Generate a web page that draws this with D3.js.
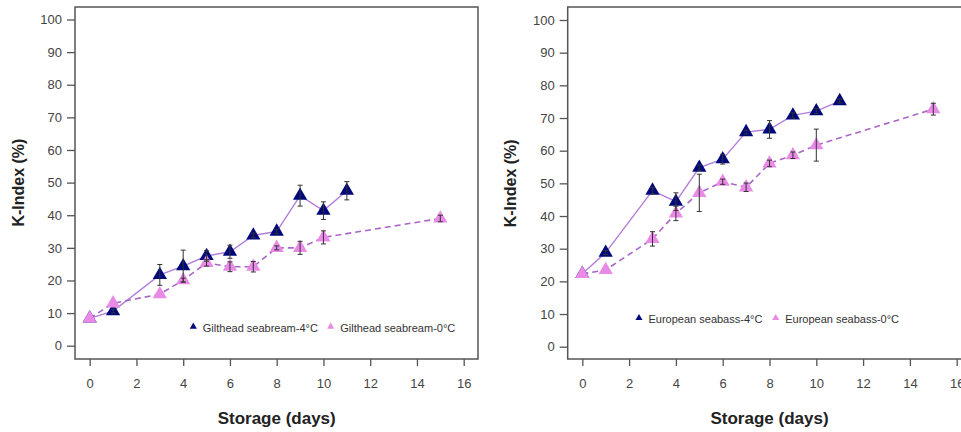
<!DOCTYPE html>
<html>
<head>
<meta charset="utf-8">
<script src="https://cdn.jsdelivr.net/npm/d3@7"></script>
<style>
  html, body { margin: 0; padding: 0; background: #fff; }
  svg { display: block; font-family: "Liberation Sans", Arial, sans-serif; }
</style>
</head>
<body>
<svg id="chart" width="961" height="432"></svg>
<script>
// ---- data ----
const days4 = [0, 1, 3, 4, 5, 6, 7, 8, 9, 10, 11];
const days0 = [0, 1, 3, 4, 5, 6, 7, 8, 9, 10, 15];

const gilthead4 = [8.4, 10.6, 21.7, 24.4, 27.5, 28.8, 33.8, 35.0, 46.0, 41.4, 47.5];
const gilthead4Err = [0.4, 0.6, 3.2, 4.9, 1.6, 2.0, 0.7, 0.7, 3.2, 2.7, 2.8];
const gilthead0 = [8.4, 13.0, 15.8, 20.1, 25.4, 24.2, 24.2, 30.0, 30.0, 33.2, 39.0];
const gilthead0Err = [0.4, 0.5, 0.5, 0.6, 1.0, 1.5, 1.6, 0.6, 2.0, 2.0, 1.0];

const seabass4 = [22.3, 28.8, 47.8, 44.4, 54.8, 57.4, 65.7, 66.5, 70.8, 72.1, 75.2];
const seabass4Err = [0.5, 0.6, 1.0, 2.7, 0.8, 1.5, 0.6, 2.7, 0.8, 0.8, 0.6];
const seabass0 = [22.3, 23.5, 33.0, 40.8, 47.1, 50.5, 48.8, 56.1, 58.6, 61.7, 72.7];
const seabass0Err = [0.5, 0.5, 2.2, 2.2, 5.7, 0.8, 1.3, 1.0, 1.0, 4.9, 1.8];

const xTicks = [0, 2, 4, 6, 8, 10, 12, 14, 16];
const yTicks = [0, 10, 20, 30, 40, 50, 60, 70, 80, 90, 100];

const labels = {
  x: "Storage (days)",
  y: "K-Index (%)",
  left: ["Gilthead seabream-4°C", "Gilthead seabream-0°C"],
  right: ["European seabass-4°C", "European seabass-0°C"]
};

// ---- styles ----
const NAVY = "#00087a";
const PINK = "#e98be6";
const LINE4 = "#b27fd8";
const LINE0 = "#a867c6";
const AXIS = "#555";
const TEXT = "#444";

const svg = d3.select("#chart");

const panels = [
  {
    frame: { x0: 75, x1: 478, y0: 7, y1: 359 },
    xr: [89.7, 463.7], yr: [345.7, 19.5],
    s4: gilthead4, e4: gilthead4Err, s0: gilthead0, e0: gilthead0Err,
    legend: labels.left, legendY: 327.7, legendX: [193.3, 330.7],
    yLabelX: 18
  },
  {
    frame: { x0: 567.7, x1: 971, y0: 7, y1: 359 },
    xr: [582.3, 956.7], yr: [346.7, 20],
    s4: seabass4, e4: seabass4Err, s0: seabass0, e0: seabass0Err,
    legend: labels.right, legendY: 319, legendX: [639, 775.7],
    yLabelX: 510.5
  }
];

panels.forEach(p => {
  const x = d3.scaleLinear().domain([0, 16]).range(p.xr);
  const y = d3.scaleLinear().domain([0, 100]).range(p.yr);
  const g = svg.append("g");
  const f = p.frame;

  // frame
  g.append("rect")
    .attr("x", f.x0).attr("y", f.y0)
    .attr("width", f.x1 - f.x0).attr("height", f.y1 - f.y0)
    .attr("fill", "none").attr("stroke", AXIS).attr("stroke-width", 1.5);

  // x axis
  const xAxis = d3.axisBottom(x).tickValues(xTicks).tickSize(7).tickPadding(13).tickFormat(d3.format("d"));
  const gx = g.append("g").attr("transform", `translate(0,${f.y1})`).call(xAxis);
  gx.select(".domain").remove();
  gx.selectAll(".tick line").attr("stroke", AXIS).attr("stroke-width", 1.3);
  gx.selectAll(".tick text").attr("fill", TEXT).style("font-size", "13px")
    .style("font-family", "'Liberation Sans', Arial, sans-serif");

  // y axis
  const yAxis = d3.axisLeft(y).tickValues(yTicks).tickSize(8).tickPadding(5).tickFormat(d3.format("d"));
  const gy = g.append("g").attr("transform", `translate(${f.x0},0)`).call(yAxis);
  gy.select(".domain").remove();
  gy.selectAll(".tick line").attr("stroke", AXIS).attr("stroke-width", 1.3);
  gy.selectAll(".tick text").attr("fill", TEXT).style("font-size", "13px")
    .style("font-family", "'Liberation Sans', Arial, sans-serif");

  // axis titles
  g.append("text")
    .attr("x", (x(0) + x(16)) / 2 + 0).attr("y", 418)
    .attr("text-anchor", "middle").attr("dominant-baseline", "central")
    .attr("font-size", 17).attr("font-weight", "bold").attr("fill", "#222")
    .text(labels.x);
  g.append("text")
    .attr("transform", `translate(${p.yLabelX},${(y(0) + y(100)) / 2}) rotate(-90)`)
    .attr("text-anchor", "middle").attr("dominant-baseline", "central")
    .attr("font-size", 16).attr("font-weight", "bold").attr("fill", "#222")
    .text(labels.y);

  const line = d3.line().x(d => x(d[0])).y(d => y(d[1]));
  const d4 = days4.map((d, i) => [d, p.s4[i], p.e4[i]]);
  const d0 = days0.map((d, i) => [d, p.s0[i], p.e0[i]]);

  // lines
  g.append("path").attr("d", line(d4)).attr("fill", "none")
    .attr("stroke", LINE4).attr("stroke-width", 1.4);
  g.append("path").attr("d", line(d0)).attr("fill", "none")
    .attr("stroke", LINE0).attr("stroke-width", 1.6).attr("stroke-dasharray", "6,4");

  const tri = d3.symbol().type(d3.symbolTriangle).size(88);

  // markers
  g.selectAll(".m4").data(d4).enter().append("path")
    .attr("transform", d => `translate(${x(d[0])},${y(d[1])})`)
    .attr("d", tri).attr("fill", NAVY);
  g.selectAll(".m0").data(d0).enter().append("path")
    .attr("transform", d => `translate(${x(d[0])},${y(d[1])})`)
    .attr("d", tri).attr("fill", PINK);

  // error bars
  const drawErr = (data) => {
    data.filter(d => d[2] > 0.5).forEach(d => {
      const cx = x(d[0]);
      const yt = y(d[1] + d[2]), yb = y(d[1] - d[2]);
      g.append("line").attr("x1", cx).attr("x2", cx).attr("y1", yt).attr("y2", yb)
        .attr("stroke", "#333").attr("stroke-width", 1);
      [yt, yb].forEach(yy => g.append("line")
        .attr("x1", cx - 2.5).attr("x2", cx + 2.5).attr("y1", yy).attr("y2", yy)
        .attr("stroke", "#333").attr("stroke-width", 1));
    });
  };
  drawErr(d4);
  drawErr(d0);

  // legend
  const ltri = d3.symbol().type(d3.symbolTriangle).size(22);
  [NAVY, PINK].forEach((c, i) => {
    g.append("path").attr("transform", `translate(${p.legendX[i]},${p.legendY - 1})`)
      .attr("d", ltri).attr("fill", c);
    g.append("text").attr("x", p.legendX[i] + 9.5).attr("y", p.legendY)
      .attr("dominant-baseline", "central").attr("font-size", 11).attr("fill", "#333")
      .text(p.legend[i]);
  });
});
</script>
</body>
</html>
